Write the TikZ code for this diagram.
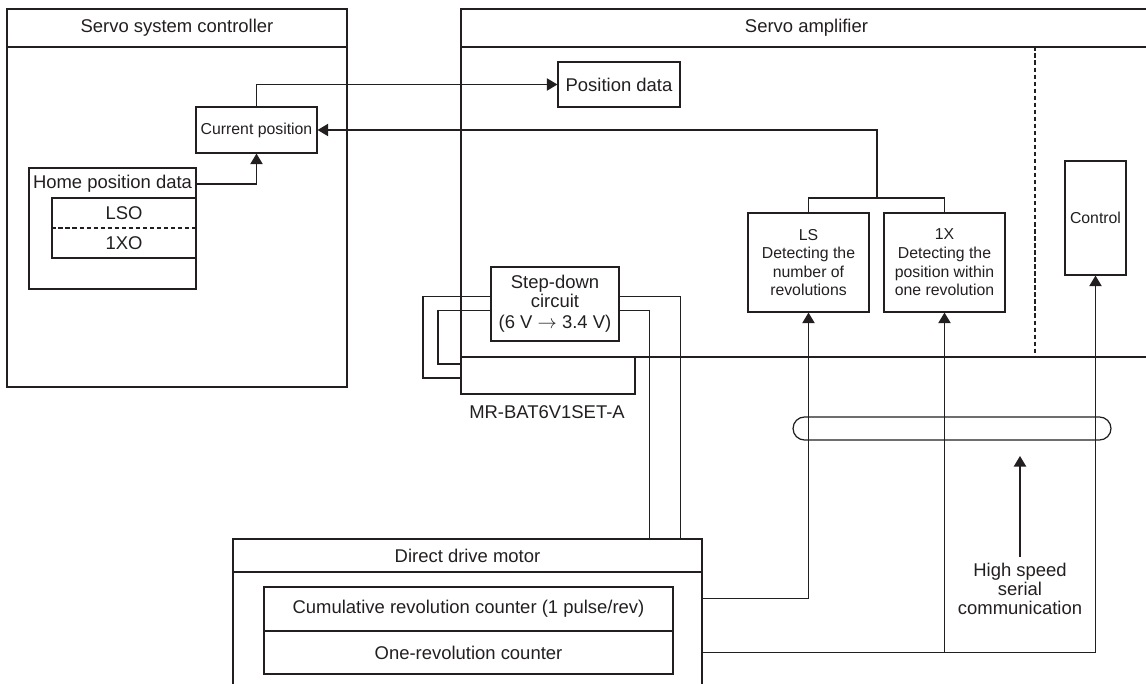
\documentclass[tikz,border=0pt]{standalone}
\usepackage{fontspec}
\setmainfont{Liberation Sans}
\usepackage{xcolor}
\usepackage{tikz}
\usetikzlibrary{arrows.meta,calc}
\definecolor{figline}{RGB}{35,31,32}
\newcommand{\labfont}{\fontsize{10.5}{10.8}\selectfont}
\newcommand{\labsfont}{\fontsize{9}{10.6}\selectfont}
\tikzset{
  ln/.style   ={draw=figline, line width=0.7pt},
  box/.style  ={ln, rectangle, inner sep=0pt, align=center, font=\labfont, text=figline},
  boxs/.style ={box, font=\labsfont},
  lab/.style  ={font=\labfont, text=figline, align=center},
  arr/.style  ={ln, -{Triangle[length=6pt,width=7pt]}},
  divd/.style ={ln, dash pattern=on 2.5pt off 1.5pt},
}
\begin{document}
\begin{tikzpicture}[x=0.02cm,y=-0.02cm]
  \useasboundingbox (0,0) rectangle (1146,683);
  \clip (0,0) rectangle (1146,683);
  % controller
  \node[box, minimum width=6.8cm, minimum height=0.76cm] (ctrlhead) at (177,28) {Servo system controller};
  \node[box, minimum width=6.8cm, minimum height=6.8cm] (ctrlbody) at (177,217) {};
  \node[boxs, minimum width=2.42cm, minimum height=0.92cm] (curpos) at (256.5,130) {Current position};
  \node[box, minimum width=3.34cm, minimum height=2.42cm] (home) at (112.5,228.5) {};
  \node[lab, inner sep=0pt] (hometxt) at (112.5,184) {Home position data};
  \node[box, minimum width=2.88cm, minimum height=1.2cm] (zerobox) at (124,228) {};
  \node[lab] (lso) at (124,213) {LSO};
  \node[lab] (onexo) at (124,243) {1XO};
  \draw[divd] (zerobox.west) -- (zerobox.east);
  % amplifier
  \node[box, minimum width=13.82cm, minimum height=0.76cm] (amphead) at (806.5,28) {Servo amplifier};
  \node[box, minimum width=13.82cm, minimum height=6.2cm] (ampbody) at (806.5,202) {};
  \draw[divd] (ampbody.north -| 1035,0) -- (ampbody.south -| 1035,0);
  \node[box, minimum width=2.44cm, minimum height=0.9cm] (posdata) at (619,84.5) {Position data};
  \node[boxs, minimum width=2.42cm, minimum height=1.98cm] (ls) at (808.5,262.5) {LS\\Detecting the\\number of\\revolutions};
  \node[boxs, minimum width=2.42cm, minimum height=1.98cm] (onex) at (944.5,262.5) {1X\\Detecting the\\position within\\one revolution};
  \node[boxs, minimum width=1.22cm, minimum height=2.28cm] (control) at (1095.5,218) {Control};
  \coordinate (detjoin) at (877,198);
  % battery
  \node[box, minimum width=2.56cm, minimum height=1.48cm] (stepdown) at (555,304) {Step-down\\circuit\\[1pt](6 V $\rightarrow$ 3.4 V)};
  \node[box, minimum width=3.48cm, minimum height=0.74cm] (battery) at (548,375.5) {};
  \node[lab] (batlabel) at (547,412) {MR-BAT6V1SET-A};
  % motor
  \node[box, minimum width=9.38cm, minimum height=0.66cm] (motorhead) at (467.5,555.5) {Direct drive motor};
  \node[box, minimum width=9.38cm, minimum height=2.56cm] (motorbody) at (467.5,636) {};
  \node[box, minimum width=8.18cm, minimum height=0.88cm] (cumul) at (468.5,609) {Cumulative revolution counter (1 pulse/rev)};
  \node[box, minimum width=8.18cm, minimum height=0.86cm] (onerev) at (468.5,652.5) {One-revolution counter};
  % cable
  \node[box, minimum width=6.36cm, minimum height=0.46cm, rounded corners=0.23cm] (cable) at (952,428.5) {};
  \node[lab] (hsc) at (1020,589) {High speed\\serial\\communication};
  \coordinate (hsctip) at (1020,456);
  % connectors
  \draw[arr] (curpos.north) |- (posdata.west);
  \draw[arr] (hometxt.east -| home.east) -| (curpos.south);
  \draw[ln] (ls.north) |- (detjoin) -| (onex.north);
  \draw[arr] (detjoin) |- (curpos.east);
  \draw[ln] ($(stepdown.north west)+(0,30)$) -| (423,378) -- (battery.west |- 0,378);
  \draw[ln] ($(stepdown.north west)+(0,44)$) -| (438,364) -- (battery.west |- 0,364);
  \draw[ln] ($(stepdown.north east)+(0,30)$) -| ($(motorhead.north east)+(-22,0)$);
  \draw[ln] ($(stepdown.north east)+(0,44)$) -| ($(motorhead.north east)+(-53,0)$);
  \draw[arr] ($(motorbody.north east)+(0,27)$) -| (ls.south);
  \draw[arr] (onerev.center -| motorbody.east) -| (control.south);
  \draw[arr] (onerev.center -| onex.south) -- (onex.south);
  \draw[arr] (hsc.north) -- (hsctip);
\end{tikzpicture}
\end{document}
